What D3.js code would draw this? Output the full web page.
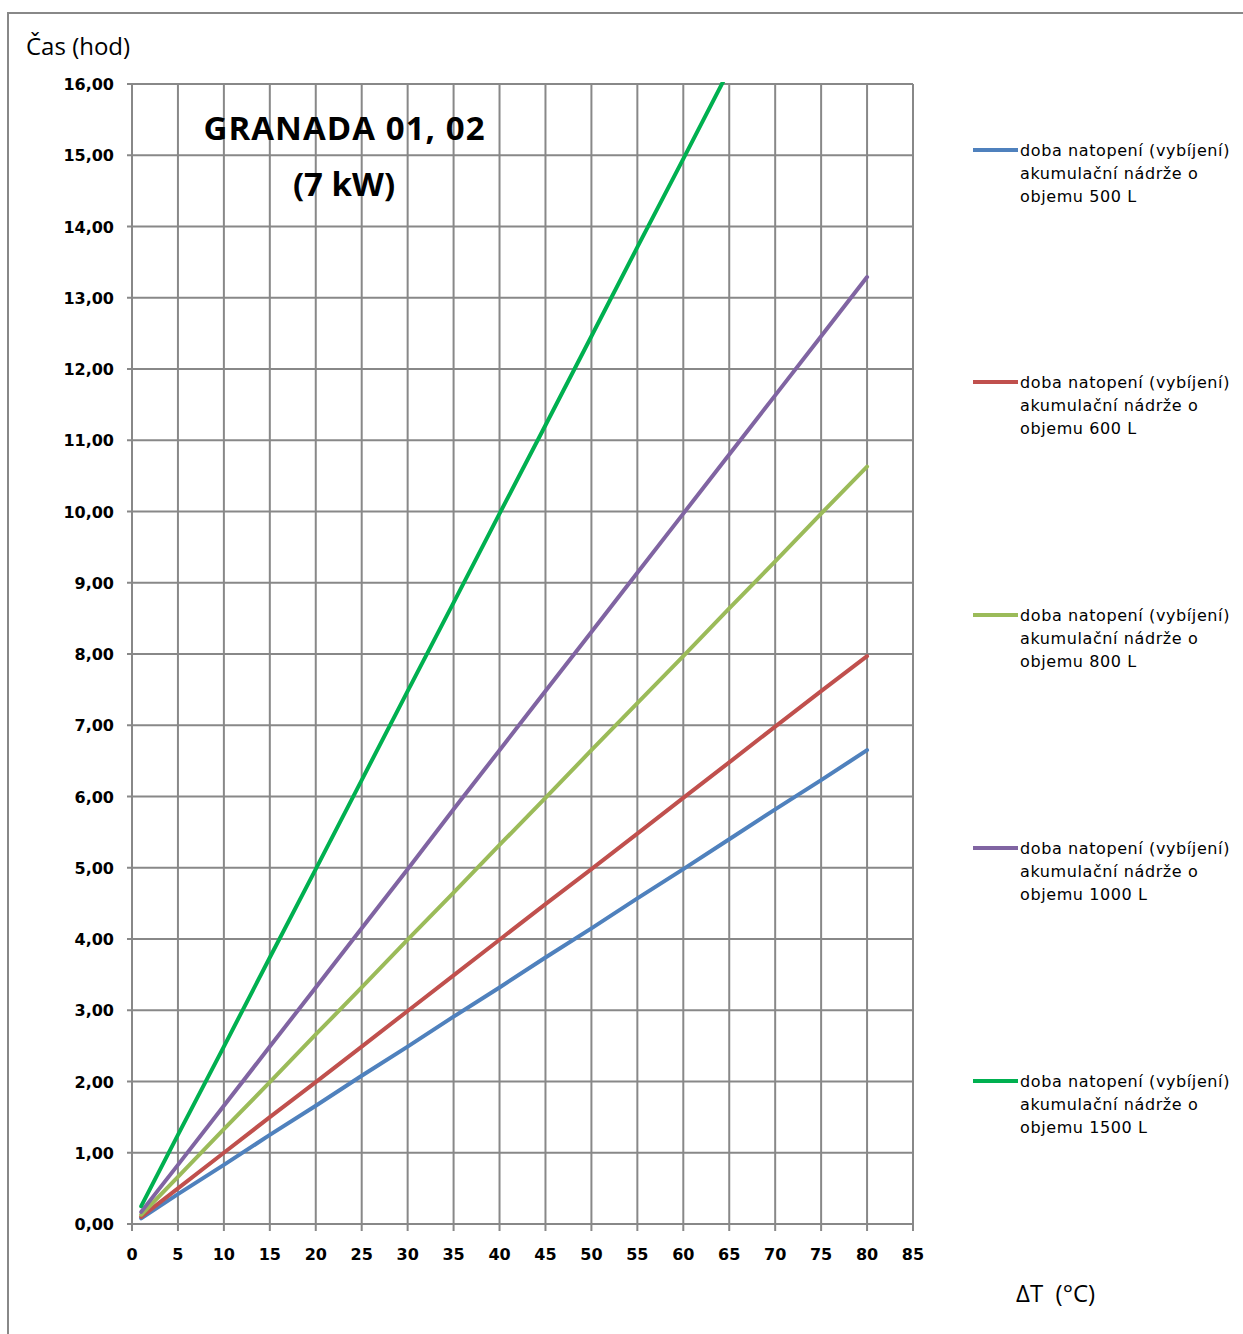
<!DOCTYPE html>
<html>
<head>
<meta charset="utf-8">
<script src="https://cdn.jsdelivr.net/npm/d3@7"></script>
<style>
  body { margin: 0; background: #fff; }
  svg { display: block; }
</style>
</head>
<body>
<svg id="chart" width="1243" height="1334"></svg>
<script>
// x values (delta T) and read-off times in hours
const dT = [1, 5, 10, 15, 20, 25, 30, 35, 40, 45, 50, 55, 60, 65, 70, 75, 80];
const t500 = [0.08, 0.42, 0.83, 1.25, 1.66, 2.08, 2.49, 2.91, 3.32, 3.74, 4.15, 4.57, 4.98, 5.40, 5.82, 6.23, 6.65];
const t600 = [0.10, 0.50, 1.00, 1.50, 1.99, 2.49, 2.99, 3.49, 3.99, 4.49, 4.98, 5.48, 5.98, 6.48, 6.98, 7.48, 7.97];
const t800 = [0.13, 0.66, 1.33, 1.99, 2.66, 3.32, 3.99, 4.65, 5.32, 5.98, 6.65, 7.31, 7.97, 8.64, 9.30, 9.97, 10.63];
const t1000 = [0.17, 0.83, 1.66, 2.49, 3.32, 4.15, 4.98, 5.82, 6.65, 7.48, 8.31, 9.14, 9.97, 10.80, 11.63, 12.46, 13.29];
const t1500 = [0.25, 1.25, 2.49, 3.74, 4.98, 6.23, 7.48, 8.72, 9.97, 11.21, 12.46, 13.71, 14.95, 16.20];

const seriesNames = ['500', '600', '800', '1000', '1500'];
const seriesValues = [t500, t600, t800, t1000, t1500];
const colors = ['#4f81bd', '#c0504d', '#9bbb59', '#8064a2', '#00b050'];

const xTicks = d3.range(0, 86, 5);
const yTicks = d3.range(0, 17, 1);

const svg = d3.select('#chart');
const m = { left: 132, right: 913, top: 84, bottom: 1224 };

const x = d3.scaleLinear().domain([0, 85]).range([m.left, m.right]);
const y = d3.scaleLinear().domain([0, 16]).range([m.bottom, m.top]);

// outer frame (top + left)
svg.append('path')
  .attr('d', 'M8,1334 V13 H1243')
  .attr('fill', 'none')
  .attr('stroke', '#888')
  .attr('stroke-width', 2);

// grid
const grid = svg.append('g');
grid.selectAll('line.v').data(xTicks).enter().append('line')
  .attr('x1', d => x(d)).attr('x2', d => x(d))
  .attr('y1', m.top).attr('y2', m.bottom + 7)
  .attr('stroke', '#888').attr('stroke-width', 2);
grid.selectAll('line.h').data(yTicks).enter().append('line')
  .attr('x1', m.left - 5).attr('x2', m.right)
  .attr('y1', d => y(d)).attr('y2', d => y(d))
  .attr('stroke', '#888').attr('stroke-width', 2);

// tick labels
const fmt = d => d3.format('.2f')(d).replace('.', ',');
svg.append('g').selectAll('text').data(yTicks).enter().append('text')
  .attr('x', m.left - 18).attr('y', d => y(d) + 6)
  .attr('text-anchor', 'end')
  .style('font', 'bold 16px Verdana, "DejaVu Sans", sans-serif')
  .text(fmt);
svg.append('g').selectAll('text').data(xTicks).enter().append('text')
  .attr('x', d => x(d)).attr('y', m.bottom + 36)
  .attr('text-anchor', 'middle')
  .style('font', 'bold 16px Verdana, "DejaVu Sans", sans-serif')
  .text(d => d);

// clip for lines
svg.append('clipPath').attr('id', 'plot')
  .append('rect').attr('x', m.left).attr('y', m.top - 2).attr('width', m.right - m.left).attr('height', m.bottom - m.top + 4);

const line = d3.line().x(d => x(d[0])).y(d => y(d[1]));
svg.append('g').attr('clip-path', 'url(#plot)')
  .selectAll('path').data(seriesValues).enter().append('path')
  .attr('d', vals => line(vals.map((v, i) => [dT[i], v])))
  .attr('fill', 'none')
  .attr('stroke', (d, i) => colors[i])
  .attr('stroke-width', 4)
  .attr('stroke-linecap', 'round');

// title
svg.append('text').attr('x', 344).attr('y', 140).attr('text-anchor', 'middle')
  .style('font', 'bold 33px "Open Sans", sans-serif')
  .attr('textLength', 281)
  .text('GRANADA 01, 02');
svg.append('text').attr('x', 344).attr('y', 196).attr('text-anchor', 'middle')
  .style('font', 'bold 33px "Open Sans", sans-serif')
  .text('(7 kW)');

// axis titles
svg.append('text').attr('x', 26).attr('y', 55)
  .style('font', '24px "Open Sans", sans-serif')
  .text('Čas (hod)');
svg.append('text').attr('x', 1016).attr('y', 1302)
  .style('font', '24px "Open Sans", sans-serif')
  .style('white-space', 'pre')
  .text('ΔT  (°C)');

// legend
const legendY = [150, 382, 615, 848, 1081];
const lg = svg.append('g').selectAll('g').data(seriesNames).enter().append('g')
  .attr('transform', (d, i) => `translate(973, ${legendY[i]})`);
lg.append('line').attr('x1', 0).attr('x2', 45).attr('y1', 0).attr('y2', 0)
  .attr('stroke', (d, i) => colors[i]).attr('stroke-width', 4);
lg.each(function (d) {
  const t = d3.select(this).append('text')
    .style('font', '16px Verdana, "DejaVu Sans", sans-serif')
    .style('letter-spacing', '0.6px');
  ['doba natopení (vybíjení)', 'akumulační nádrže o', `objemu ${d} L`].forEach((s, k) => {
    t.append('tspan').attr('x', 47).attr('y', 6 + k * 23).text(s);
  });
});
</script>
</body>
</html>
